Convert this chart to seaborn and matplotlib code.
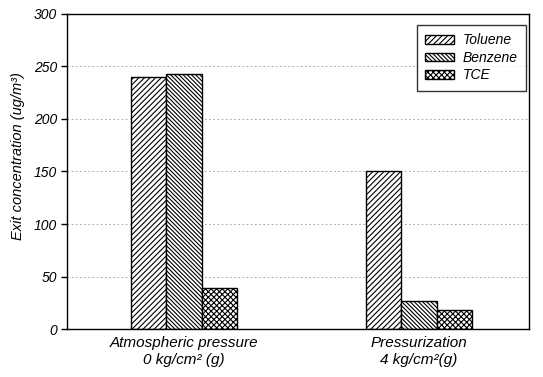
import matplotlib
matplotlib.use("Agg")
import matplotlib.pyplot as plt
import seaborn as sns
import pandas as pd

conditions = ["Atmospheric pressure\n0 kg/cm² (g)", "Pressurization\n4 kg/cm²(g)"]
compounds = ["Toluene", "Benzene", "TCE"]
toluene = [240, 150]
benzene = [243, 27]
tce = [39, 18]

rows = []
for i, c in enumerate(conditions):
    for name, vals in zip(compounds, [toluene, benzene, tce]):
        rows.append({"Condition": c, "Compound": name, "Value": vals[i]})
df = pd.DataFrame(rows)

sns.set_style("white")
plt.rcParams['font.family'] = ['Liberation Sans', 'DejaVu Sans']
plt.rcParams['hatch.linewidth'] = 0.8
plt.rcParams['text.color'] = 'black'
plt.rcParams['axes.labelcolor'] = 'black'
plt.rcParams['xtick.color'] = 'black'
plt.rcParams['ytick.color'] = 'black'

fig = plt.figure(figsize=(5.43, 3.77), dpi=100)
ax = fig.add_axes([0.1234, 0.1273, 0.8506, 0.8356])

sns.barplot(data=df, x="Condition", y="Value", hue="Compound", hue_order=compounds,
            order=conditions, width=0.45, ax=ax, palette=["white"] * 3,
            edgecolor="black", linewidth=1.0, saturation=1)

hatches = ["//////", "\\\\\\\\\\\\\\\\", "xxxxxx"]
for cont, h in zip(ax.containers, hatches):
    for p in cont:
        p.set_hatch(h)
        p.set_facecolor("white")
        p.set_edgecolor("black")

ax.set_ylim(0, 300)
ax.set_xlim(-0.498, 1.468)
ax.set_yticks(range(0, 301, 50))
ax.yaxis.grid(True, linestyle=(0, (2, 3)), color="#999999", linewidth=0.6)
ax.set_axisbelow(True)
ax.tick_params(axis='y', direction='out', length=4, width=1, left=True, labelsize=10, pad=3,
               colors='black')
ax.tick_params(axis='x', length=0, labelsize=11, pad=5, colors='black')
for lab in ax.get_yticklabels():
    lab.set_fontstyle('italic')
for lab in ax.get_xticklabels():
    lab.set_fontstyle('italic')
    lab.set_linespacing(1.25)
for s in ax.spines.values():
    s.set_color("black")
    s.set_linewidth(1.0)

ax.set_xlabel("")
ax.set_ylabel("Exit concentration (ug/m³)", fontsize=10.5, fontstyle='italic', color='black')
ax.yaxis.set_label_coords(-0.092, 0.55)

leg = ax.legend(title=None, loc="upper right", bbox_to_anchor=(0.9935, 0.965),
                frameon=True, fancybox=False, edgecolor="black",
                prop={'style': 'italic', 'size': 10}, handlelength=2.1, handleheight=0.6,
                handletextpad=0.6, borderpad=0.6, labelspacing=0.25, borderaxespad=0)
leg.get_frame().set_linewidth(1.0)
for t in leg.get_texts():
    t.set_color('black')
for h, hs in zip(leg.legend_handles, hatches):
    h.set_hatch(hs)
    h.set_facecolor("white")
    h.set_edgecolor("black")

fig.savefig("out.png", dpi=100)
